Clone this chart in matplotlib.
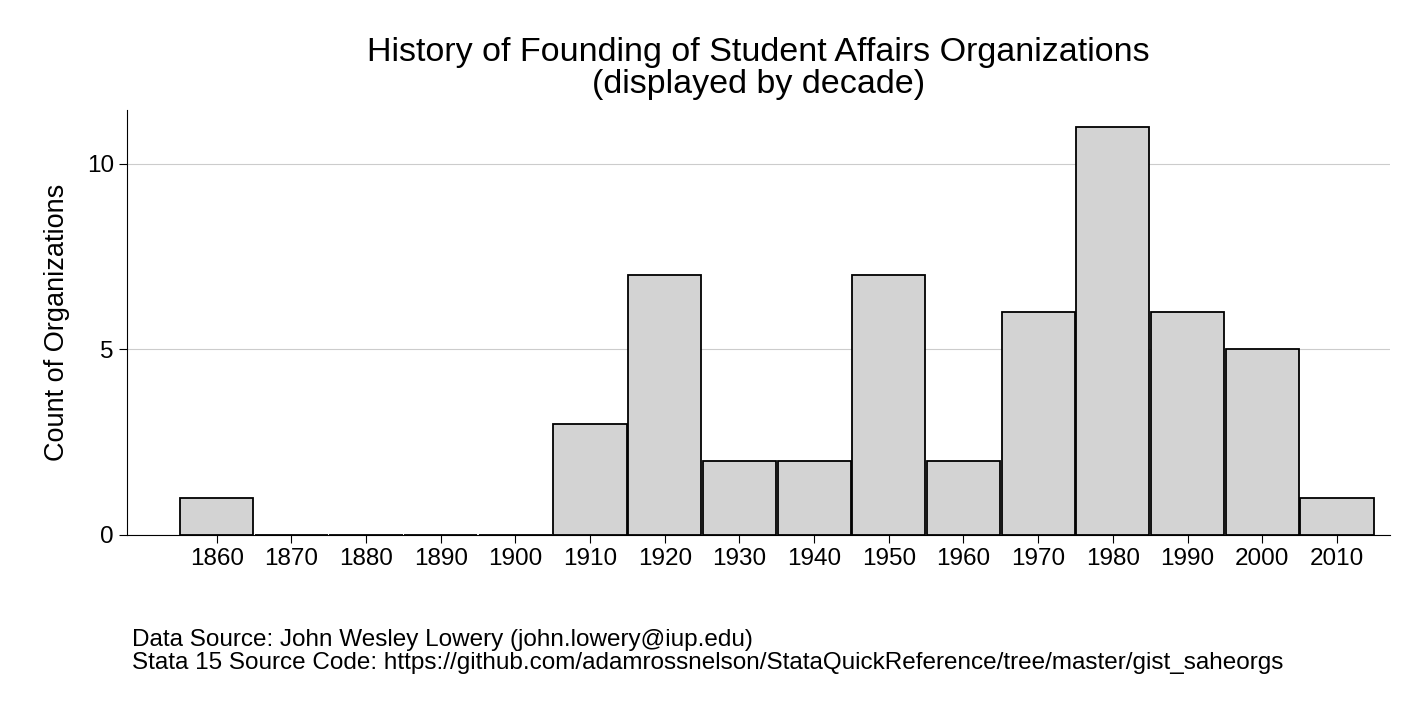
import matplotlib
matplotlib.use("Agg")
from matplotlib import pyplot as plt

plt.rcParams['font.family'] = ['Liberation Sans', 'DejaVu Sans']

decades = [1860, 1870, 1880, 1890, 1900, 1910, 1920, 1930, 1940, 1950,
           1960, 1970, 1980, 1990, 2000, 2010]
counts = [1, 0, 0, 0, 0, 3, 7, 2, 2, 7, 2, 6, 11, 6, 5, 1]

fig = plt.figure(figsize=(14.16, 7.08), dpi=100)
ax = fig.add_axes([0.0897, 0.2444, 0.8919, 0.6002])

ax.bar(decades, counts, width=9.8, color='#d3d3d3', edgecolor='black',
       linewidth=1.3, zorder=3)

ax.set_xlim(1848, 2017.1)
ax.set_ylim(0, 11.45)
ax.set_xticks(decades)
ax.set_yticks([0, 5, 10])
ax.tick_params(labelsize=17.5, length=6)
ax.yaxis.grid(True, color='#cccccc', linewidth=0.8, zorder=0)
for s in ['top', 'right']:
    ax.spines[s].set_visible(False)

ax.set_ylabel('Count of Organizations', fontsize=19.5, labelpad=12)
ax.set_title('History of Founding of Student Affairs Organizations\n(displayed by decade)',
             fontsize=24.5, pad=12, linespacing=1.05)

fig.text(0.093, 0.055,
         'Data Source: John Wesley Lowery (john.lowery@iup.edu)\n'
         'Stata 15 Source Code: https://github.com/adamrossnelson/StataQuickReference/tree/master/gist_saheorgs',
         fontsize=17.5, linespacing=1.05)

fig.savefig('out.png', dpi=100, facecolor='white')
